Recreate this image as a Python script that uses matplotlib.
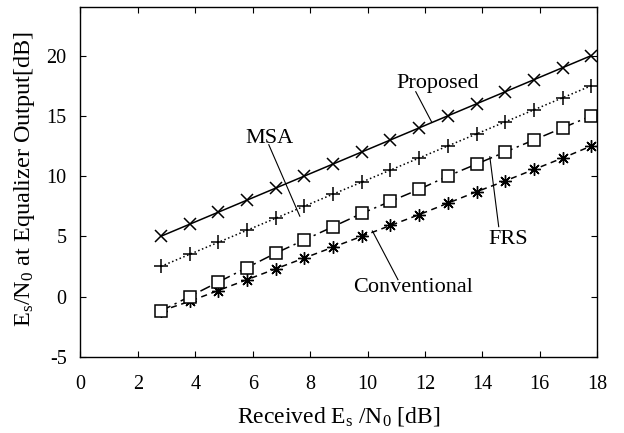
import matplotlib

matplotlib.use("Agg")
import matplotlib.pyplot as plt

plt.rcParams["font.family"] = ["Liberation Serif", "DejaVu Serif"]
plt.rcParams["mathtext.fontset"] = "custom"
plt.rcParams["mathtext.rm"] = "Liberation Serif"
plt.rcParams["mathtext.it"] = "Liberation Serif:italic"
plt.rcParams["axes.unicode_minus"] = False

# Received Es/N0 [dB]
snr_in = [2.8, 3.8, 4.8, 5.8, 6.8, 7.8, 8.8, 9.8, 10.8, 11.8, 12.8, 13.8,
          14.8, 15.8, 16.8, 17.8]

proposed = [5.0, 6.0, 7.0, 8.0, 9.0, 10.0, 11.0, 12.0, 13.0, 14.0, 15.0,
            16.0, 17.0, 18.0, 19.0, 20.0]
msa = [2.5, 3.5, 4.5, 5.5, 6.5, 7.5, 8.5, 9.5, 10.5, 11.5, 12.5, 13.5,
       14.5, 15.5, 16.5, 17.5]
frs = [-1.2, 0.0, 1.2, 2.4, 3.6, 4.7, 5.8, 6.9, 7.9, 8.9, 10.0, 11.0,
       12.0, 13.0, 14.0, 15.0]
conventional = [-1.2, -0.4, 0.5, 1.4, 2.3, 3.2, 4.1, 5.0, 5.9, 6.8, 7.75,
                8.7, 9.6, 10.55, 11.5, 12.5]

fig = plt.figure(figsize=(6.24, 4.33), dpi=100)
ax = fig.add_axes([0.129, 0.176, 0.828, 0.807])

lw = 1.1
ax.plot(snr_in, proposed, color="black", linestyle="-", linewidth=lw,
        marker="x", markersize=9, markeredgewidth=1.1)
ax.plot(snr_in, msa, color="black", linestyle=":", linewidth=lw,
        marker="+", markersize=10, markeredgewidth=1.1)
ax.plot(snr_in, conventional, color="black", linestyle=(0, (4, 3)),
        linewidth=lw, marker=(8, 2, 0), markersize=9, markeredgewidth=1.0)
ax.plot(snr_in, frs, color="black", linestyle=(0, (7, 3, 1.5, 3)),
        linewidth=lw, marker="s", markersize=9, markerfacecolor="white",
        markeredgecolor="black", markeredgewidth=1.1)

# Curve labels with leader lines
def label(text, xy_text, xy_from, xy_to):
    ax.text(*xy_text, text, ha="center", va="center", fontsize=16)
    ax.plot([xy_from[0], xy_to[0]], [xy_from[1], xy_to[1]],
            color="black", linewidth=0.8)

label("Proposed", (12.45, 17.7), (11.68, 17.0), (12.23, 14.5))
label("MSA", (6.6, 13.1), (6.56, 12.6), (7.64, 6.67))
label("FRS", (14.9, 4.75), (14.57, 5.8), (14.26, 11.6))
label("Conventional", (11.58, 0.75), (11.06, 1.4), (10.17, 5.44))

ax.set_xlim(0, 18)
ax.set_ylim(-5, 24)
ax.set_xticks(range(0, 19, 2))
ax.set_yticks(range(-5, 21, 5))
ax.tick_params(direction="in", top=True, right=True, labelsize=14.5,
               length=4, width=0.8)
ax.tick_params(axis="x", pad=13)
ax.tick_params(axis="y", pad=10)
for s in ax.spines.values():
    s.set_linewidth(1.0)

ax.set_xlabel(r"Received E$_\mathrm{s}$ /N$_0$ [dB]", fontsize=17)
ax.set_ylabel(r"E$_\mathrm{s}$/N$_0$ at Equalizer Output[dB]", fontsize=17.5)
ax.xaxis.set_label_coords(0.5, -0.137)
ax.yaxis.set_label_coords(-0.085, 0.508)

fig.savefig("out.png", dpi=100)
